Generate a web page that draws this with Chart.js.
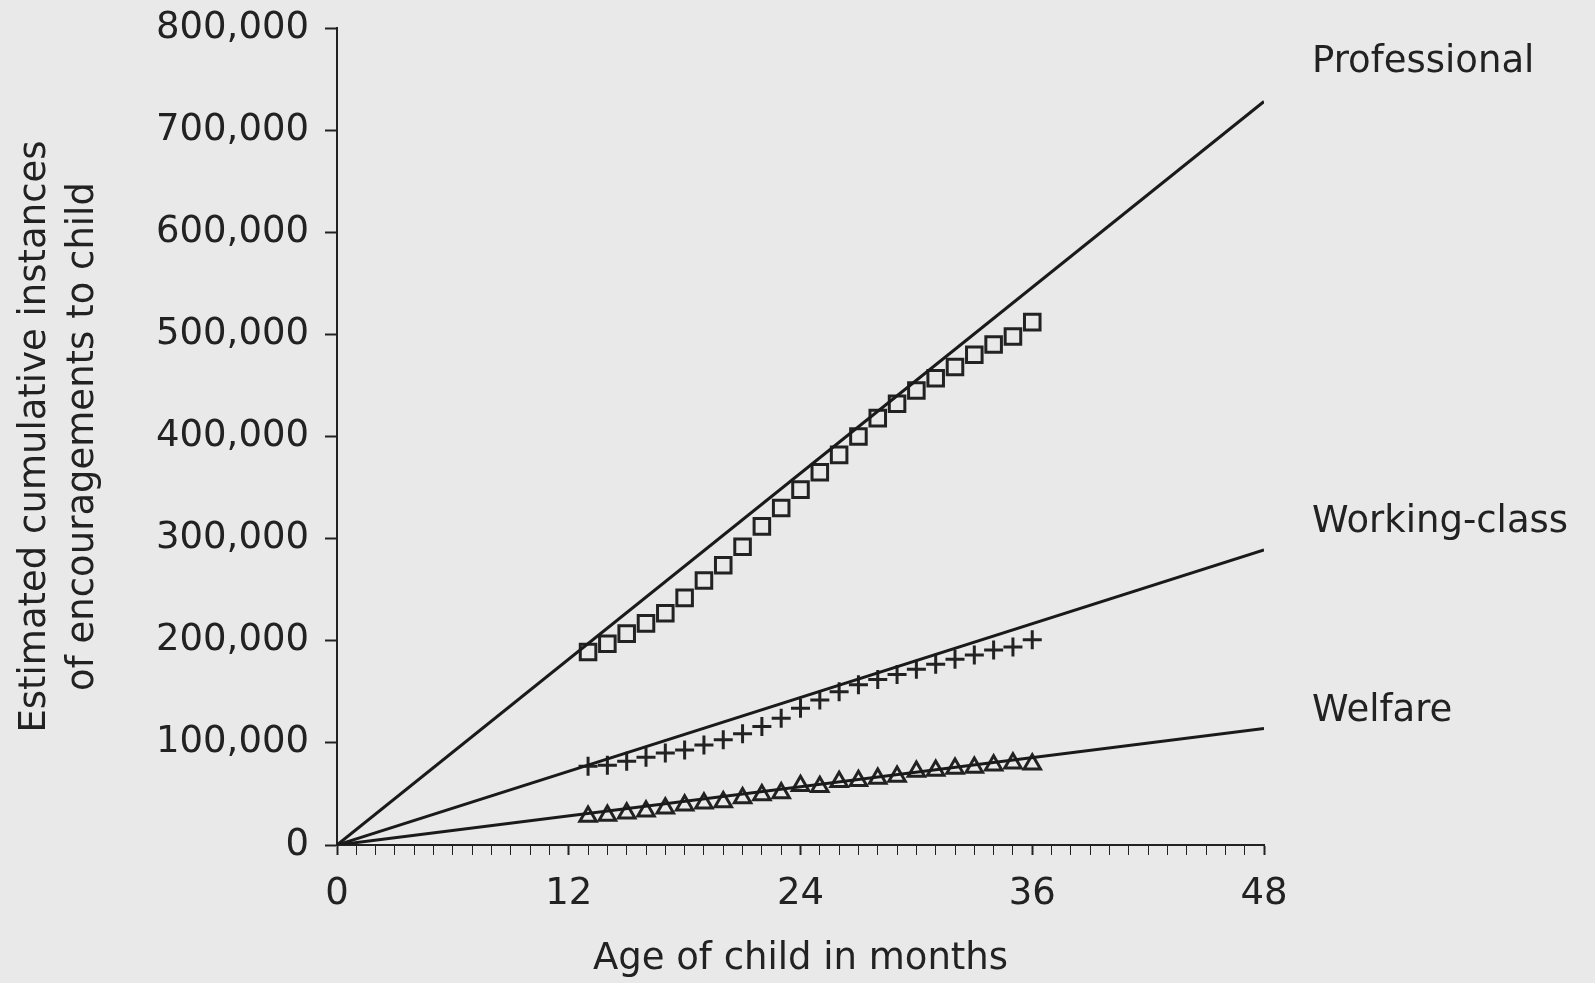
<!DOCTYPE html>
<html>
<head>
<meta charset="utf-8">
<script src="https://cdn.jsdelivr.net/npm/chart.js@4"></script>
<style>
  html, body { margin: 0; padding: 0; background: #e9e9e9; }
  #wrap { width: 1595px; height: 983px; position: relative; }
</style>
</head>
<body>
<div id="wrap"><canvas id="chart"></canvas></div>
<script>
// Data
const months = [13, 14, 15, 16, 17, 18, 19, 20, 21, 22, 23, 24, 25, 26, 27, 28, 29, 30, 31, 32, 33, 34, 35, 36];
const professional = [189000, 197000, 207000, 217000, 227000, 242000, 259000, 274000, 292000, 312000, 330000, 348000,
    365000, 382000, 400000, 418000, 432000, 445000, 457000, 468000, 480000, 490000, 498000, 512000];
const workingClass = [77000, 78000, 82000, 86000, 90000, 93000, 98000, 103000, 109000, 116000, 124000, 134000,
    142000, 150000, 157000, 162000, 167000, 172000, 177000, 182000, 186000, 191000, 194000, 201000];
const welfare = [28000, 29000, 31000, 33000, 36000, 39000, 41000, 42000, 46000, 49000, 51000, 58000,
    57000, 62000, 63000, 65000, 67000, 72000, 73000, 75000, 76000, 78000, 80000, 79000];

// fitted lines from the origin to 48 months
const lineMonths = [0, 48];
const professionalLine = [0, 728000];
const workingClassLine = [0, 289000];
const welfareLine = [0, 114000];

// labels at the right-hand end of each line
const groupNames = ['Professional', 'Working-class', 'Welfare'];
const groupLabelValues = [766000, 316000, 131000];

const xTicks = [0, 12, 24, 36, 48];
const yMax = 800000;

const ink = '#222';
const font = { family: "'DejaVu Sans', sans-serif", size: 37 };

const pts = (xs, ys) => xs.map((x, i) => ({ x: x, y: ys[i] }));

const lineStyle = {
    showLine: true,
    borderColor: '#1a1a1a',
    borderWidth: 3,
    pointRadius: 0,
    fill: false
};
const markerStyle = {
    showLine: false,
    borderColor: ink,
    backgroundColor: 'transparent',
    pointBorderWidth: 3
};

// right-side group labels
const groupLabels = {
    id: 'groupLabels',
    afterDraw(chart) {
        const ctx = chart.ctx;
        const y = chart.scales.y;
        ctx.save();
        ctx.font = font.size + 'px ' + font.family;
        ctx.fillStyle = ink;
        ctx.textAlign = 'left';
        ctx.textBaseline = 'middle';
        groupNames.forEach((name, i) => {
            ctx.fillText(name, chart.chartArea.right + 48, y.getPixelForValue(groupLabelValues[i]));
        });
        ctx.restore();
    }
};

new Chart(document.getElementById('chart'), {
    type: 'scatter',
    data: {
        datasets: [
            Object.assign({ label: 'Professional fit', data: pts(lineMonths, professionalLine) }, lineStyle),
            Object.assign({ label: 'Working-class fit', data: pts(lineMonths, workingClassLine) }, lineStyle),
            Object.assign({ label: 'Welfare fit', data: pts(lineMonths, welfareLine) }, lineStyle),
            Object.assign({ label: 'Professional', data: pts(months, professional), pointStyle: 'rect', pointRadius: 11 }, markerStyle),
            Object.assign({ label: 'Working-class', data: pts(months, workingClass), pointStyle: 'cross', pointRadius: 9.5 }, markerStyle),
            Object.assign({ label: 'Welfare', data: pts(months, welfare), pointStyle: 'triangle', pointRadius: 9.5 }, markerStyle)
        ]
    },
    options: {
        responsive: true,
        maintainAspectRatio: false,
        animation: false,
        layout: { padding: { top: 28, right: 331, bottom: 0, left: 0 } },
        plugins: {
            legend: { display: false },
            tooltip: { enabled: false }
        },
        scales: {
            x: {
                type: 'linear',
                min: 0,
                max: 48,
                afterFit: s => { s.height = 138; s.paddingLeft = 0; s.paddingRight = 0; },
                border: { display: true, color: ink, width: 2 },
                grid: {
                    drawOnChartArea: false,
                    drawTicks: true,
                    tickLength: 10,
                    tickColor: ink,
                    tickWidth: c => (c.tick && c.tick.value % 12 === 0 ? 2 : 1)
                },
                ticks: {
                    stepSize: 1,
                    autoSkip: false,
                    maxRotation: 0,
                    padding: 17,
                    color: ink,
                    font: font,
                    callback: v => (xTicks.includes(v) ? String(v) : '')
                },
                title: {
                    display: true,
                    text: 'Age of child in months',
                    color: ink,
                    font: font,
                    padding: { top: 0, bottom: 1 }
                }
            },
            y: {
                type: 'linear',
                min: 0,
                max: yMax,
                afterFit: s => { s.width = 337; s.paddingTop = 0; s.paddingBottom = 0; },
                border: { display: true, color: ink, width: 2 },
                grid: {
                    drawOnChartArea: false,
                    drawTicks: true,
                    tickLength: 12,
                    tickColor: ink,
                    tickWidth: 2
                },
                ticks: {
                    stepSize: 100000,
                    padding: 16,
                    color: ink,
                    font: font,
                    callback: v => v.toLocaleString('en-US')
                },
                title: {
                    display: true,
                    text: ['Estimated cumulative instances', 'of encouragements to child'],
                    color: ink,
                    font: Object.assign({ lineHeight: 1.3 }, font),
                    padding: { top: 11, bottom: 0 }
                }
            }
        }
    },
    plugins: [groupLabels]
});
</script>
</body>
</html>
